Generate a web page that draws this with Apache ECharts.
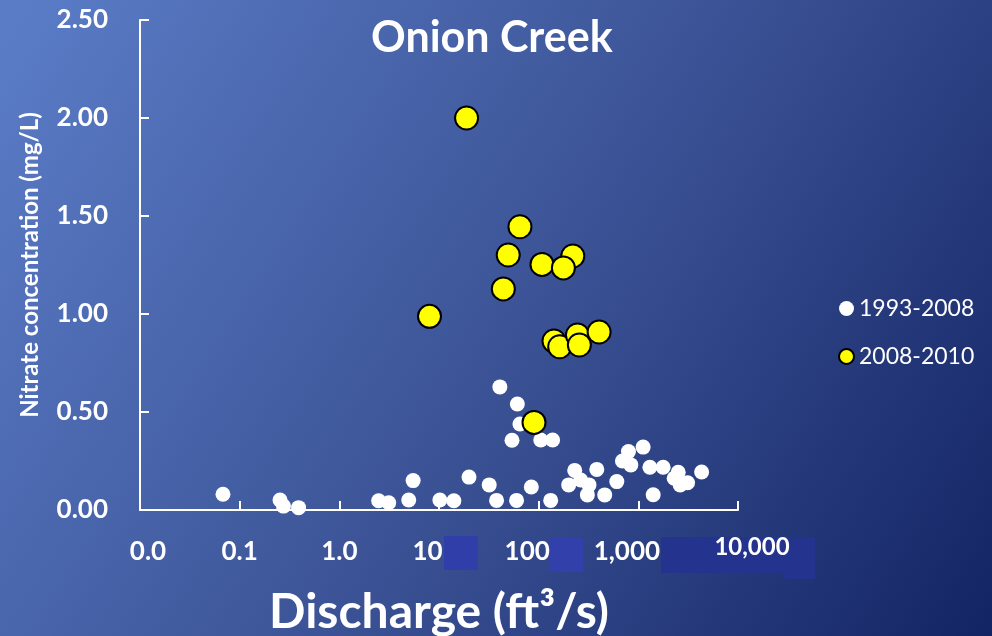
<!DOCTYPE html>
<html><head><meta charset="utf-8">
<script src="https://cdn.jsdelivr.net/npm/echarts@6/dist/echarts.min.js"></script>
<style>html,body{margin:0;padding:0;}#c{width:992px;height:636px;}</style>
</head><body><div id="c"></div>
<script>
// 1993-2008 samples
const oldQ = [0.068,0.254,0.275,0.39,2.48,3.13,4.97,5.5,10.2,14.1,20,31.9,37.8,40.8,61.1,64.9,54,105,138,60,84.4,132,230,200,264,320,308,383,460,608,693,796,841,1117,1306,1409,1774,2290,2512,2630,3119,4315];
const oldN = [0.08,0.051,0.02,0.012,0.047,0.037,0.051,0.15,0.051,0.047,0.168,0.128,0.049,0.628,0.541,0.439,0.356,0.357,0.357,0.049,0.117,0.049,0.202,0.128,0.153,0.128,0.077,0.207,0.077,0.145,0.25,0.298,0.23,0.321,0.218,0.078,0.218,0.162,0.192,0.128,0.139,0.194];
// 2008-2010 samples
const newQ = [18.9,64.9,49.5,108,220,177,44.2,8.03,142.5,162.5,245,256,404,89.8];
const newN = [2.00,1.445,1.301,1.253,1.296,1.235,1.128,0.988,0.862,0.833,0.893,0.842,0.908,0.447];
const xTicks = [0.01,0.1,1,10,100,1000,10000];
const xTickLabels = ['0.0','0.1','1.0','10','100','1,000','10,000'];
const seriesNames = ['1993-2008','2008-2010'];

const F = 'Lato, "Open Sans", sans-serif';
const labelStyleKey = ['l','c','c','r','r','r','t'];
const base = {color:'#fff',fontFamily:F,fontWeight:'bold',fontSize:26};
const chart = echarts.init(document.getElementById('c'));
const zip = (a,b)=>a.map((v,i)=>[v,b[i]]);
chart.setOption({
  backgroundColor: new echarts.graphic.LinearGradient(0,0,1,1,[
    {offset:0,color:'#5b7dc8'},{offset:0.5,color:'#3d5598'},{offset:1,color:'#132464'}]),
  animation:false,
  title:{text:'Onion Creek',left:366,top:12,textStyle:{color:'#fff',fontFamily:F,fontWeight:'bold',fontSize:43}},
  legend:{orient:'vertical',left:833,top:292,itemGap:25,itemWidth:15,itemHeight:15,
    textStyle:{color:'#fff',fontFamily:F,fontSize:23},
    data:[{name:seriesNames[0],icon:'circle'},{name:seriesNames[1],icon:'circle'}]},
  grid:{left:140,right:254,top:20,bottom:126,containLabel:false,outerBoundsMode:'none'},
  xAxis:{type:'log',logBase:10,min:xTicks[0],max:xTicks[xTicks.length-1],
    name:'Discharge (ft³/s)',nameLocation:'middle',nameGap:79,
    nameTextStyle:{color:'#fff',fontFamily:F,fontSize:48,fontWeight:'bold'},
    axisLine:{lineStyle:{color:'#fff',width:2}},
    axisTick:{inside:true,length:9,lineStyle:{color:'#fff',width:2}},
    splitLine:{show:false},minorTick:{show:false},
    axisLabel:Object.assign({},base,{margin:25,
      formatter:v=>{const i=Math.round(Math.log10(v))+2;return xTickLabels[i]!==undefined?'{'+labelStyleKey[i]+'|'+xTickLabels[i]+'}':'';},
      rich:{
        l:Object.assign({},base,{padding:[4,0,0,16]}),
        c:Object.assign({},base,{padding:[4,0,0,0]}),
        r:Object.assign({},base,{padding:[4,23,0,0]}),
        t:Object.assign({},base,{fontSize:24,padding:[0,0,0,28]})
      }})},
  yAxis:{type:'value',min:0,max:2.5,interval:0.5,
    name:'Nitrate concentration (mg/L)',nameLocation:'middle',nameGap:98,nameRotate:90,
    nameTextStyle:{color:'#fff',fontFamily:F,fontSize:24,fontWeight:'bold'},
    axisLine:{show:true,lineStyle:{color:'#fff',width:2}},
    axisTick:{show:true,inside:true,length:9,lineStyle:{color:'#fff',width:2}},
    splitLine:{show:false},
    axisLabel:Object.assign({},base,{margin:32,formatter:v=>v.toFixed(2)})},
  series:[
    {name:seriesNames[0],type:'scatter',symbol:'circle',symbolSize:15,data:zip(oldQ,oldN),
      itemStyle:{color:'#fff',opacity:1}},
    {name:seriesNames[1],type:'scatter',symbol:'circle',symbolSize:23,data:zip(newQ,newN),
      itemStyle:{color:'#ffff00',borderColor:'#000',borderWidth:2,opacity:1}}
  ],
  graphic:[
    {type:'rect',shape:{x:444,y:536,width:34,height:34},style:{fill:'#2f3ea8'}},
    {type:'rect',shape:{x:549,y:538,width:34,height:34},style:{fill:'#3140ab'}},
    {type:'rect',shape:{x:661,y:537,width:154,height:36},style:{fill:'#24348e'},z:-1},
    {type:'rect',shape:{x:783,y:560,width:32,height:19},style:{fill:'#24348e'},z:-1}
  ]
});
</script></body></html>
